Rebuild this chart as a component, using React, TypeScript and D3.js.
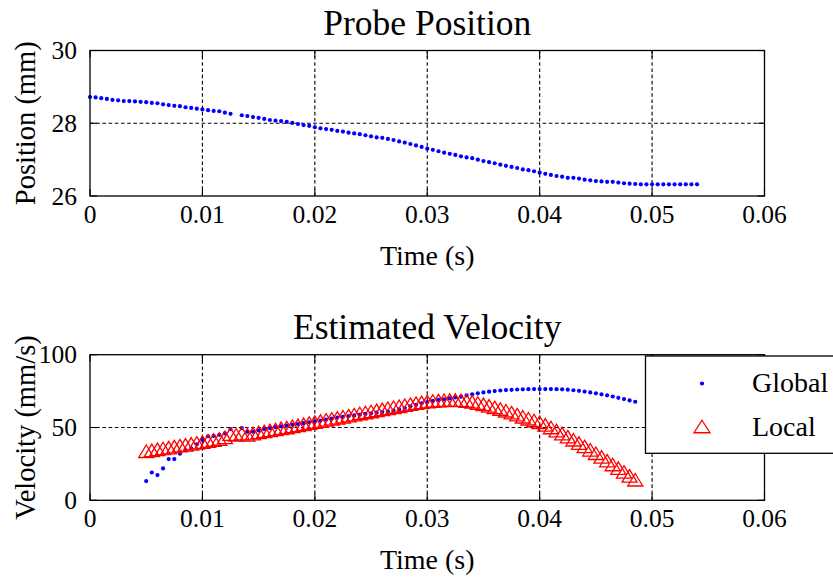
import React from 'react';
import * as d3 from 'd3';

// ---------- data ----------
// Probe position: time in ms, position in mm (one sample missing at 13 ms)
const posTimeMs = [
  0, 0.5, 1, 1.5, 2, 2.5, 3, 3.5, 4, 4.5, 5, 5.5, 6, 6.5, 7, 7.5, 8, 8.5, 9, 9.5,
  10, 10.5, 11, 11.5, 12, 12.5, 13.5, 14, 14.5, 15, 15.5, 16, 16.5, 17, 17.5, 18,
  18.5, 19, 19.5, 20, 20.5, 21, 21.5, 22, 22.5, 23, 23.5, 24, 24.5, 25, 25.5, 26,
  26.5, 27, 27.5, 28, 28.5, 29, 29.5, 30, 30.5, 31, 31.5, 32, 32.5, 33, 33.5, 34,
  34.5, 35, 35.5, 36, 36.5, 37, 37.5, 38, 38.5, 39, 39.5, 40, 40.5, 41, 41.5, 42,
  42.5, 43, 43.5, 44, 44.5, 45, 45.5, 46, 46.5, 47, 47.5, 48, 48.5, 49, 49.5, 50,
  50.5, 51, 51.5, 52, 52.5, 53, 53.5, 54,
];
const positionMm = [
  28.72, 28.71, 28.69, 28.67, 28.64, 28.63, 28.61, 28.61, 28.6, 28.59, 28.58, 28.56,
  28.55, 28.52, 28.5, 28.48, 28.47, 28.44, 28.42, 28.4, 28.38, 28.36, 28.34, 28.33,
  28.29, 28.26, 28.22, 28.2, 28.17, 28.15, 28.12, 28.09, 28.07, 28.06, 28.04, 28.01,
  27.98, 27.95, 27.93, 27.89, 27.86, 27.84, 27.82, 27.79, 27.77, 27.74, 27.72, 27.7,
  27.67, 27.64, 27.61, 27.6, 27.57, 27.54, 27.5, 27.47, 27.43, 27.39, 27.35, 27.3,
  27.27, 27.23, 27.19, 27.16, 27.13, 27.09, 27.06, 27.04, 27.0, 26.96, 26.93, 26.9,
  26.86, 26.83, 26.8, 26.77, 26.73, 26.71, 26.68, 26.64, 26.61, 26.58, 26.55, 26.53,
  26.5, 26.5, 26.48, 26.45, 26.43, 26.41, 26.4, 26.39, 26.39, 26.37, 26.35, 26.34,
  26.33, 26.32, 26.32, 26.32, 26.32, 26.32, 26.32, 26.32, 26.32, 26.32, 26.32, 26.32,
];

// Velocity: time in ms, velocity in mm/s
const velTimeMs = [
  5, 5.5, 6, 6.5, 7, 7.5, 8, 8.5, 9, 9.5, 10, 10.5, 11, 11.5, 12, 12.5, 13, 13.5,
  14, 14.5, 15, 15.5, 16, 16.5, 17, 17.5, 18, 18.5, 19, 19.5, 20, 20.5, 21, 21.5,
  22, 22.5, 23, 23.5, 24, 24.5, 25, 25.5, 26, 26.5, 27, 27.5, 28, 28.5, 29, 29.5,
  30, 30.5, 31, 31.5, 32, 32.5, 33, 33.5, 34, 34.5, 35, 35.5, 36, 36.5, 37, 37.5,
  38, 38.5, 39, 39.5, 40, 40.5, 41, 41.5, 42, 42.5, 43, 43.5, 44, 44.5, 45, 45.5,
  46, 46.5, 47, 47.5, 48, 48.5,
];
const globalVel: (number | null)[] = [
  13.2, 19.1, 17.3, 21.9, 28.3, 28.3, 32.0, 34.5, 35.6, 38.5, 41.5, 44.0, 44.2, 45.0,
  46.0, 48.9, null, 49.6, 47.1, 47.1, 48.0, 48.8, 49.6, 50.3, 50.8, 51.3, 51.9, 52.4,
  53.0, 53.6, 54.2, 54.8, 55.5, 56.1, 56.8, 57.3, 57.8, 58.3, 58.8, 59.3, 59.8, 60.2,
  60.6, 61.0, 61.6, 62.4, 63.4, 64.6, 65.6, 66.6, 67.5, 68.3, 69.0, 69.4, 70.0, 70.6,
  71.2, 72.0, 72.8, 73.5, 74.1, 74.6, 75.0, 75.4, 75.7, 75.9, 76.1, 76.2, 76.3, 76.4,
  76.4, 76.4, 76.4, 76.3, 76.2, 76.0, 75.6, 75.2, 74.7, 74.1, 73.5, 72.8, 72.1, 71.3,
  70.4, 69.5, 68.6, 67.7,
];
const localVel = [
  33.7, 34.3, 35.0, 35.6, 36.2, 36.9, 37.5, 38.1, 38.8, 39.4, 40.0, 40.7, 41.4, 42.1,
  43.2, 45.5, 45.0, 45.8, 45.0, 45.8, 46.6, 47.3, 48.0, 48.7, 49.4, 50.0, 50.8, 51.5,
  52.2, 53.0, 53.7, 54.4, 55.2, 55.9, 56.6, 57.4, 58.1, 58.8, 59.6, 60.3, 61.0, 61.8,
  62.5, 63.2, 63.9, 64.6, 65.3, 66.0, 66.7, 67.3, 67.8, 68.2, 68.5, 68.7, 68.8, 68.8,
  68.6, 68.2, 67.6, 66.8, 65.9, 64.9, 63.8, 62.7, 61.5, 60.2, 58.8, 57.4, 56.0, 54.8,
  53.6, 51.8, 50.0, 47.9, 45.8, 43.7, 41.6, 39.3, 37.0, 34.7, 32.3, 29.8, 27.2, 24.6,
  22.1, 19.5, 16.8, 14.1,
];

const timeTicks = [0, 0.01, 0.02, 0.03, 0.04, 0.05, 0.06];
const timeTickLabels = ['0', '0.01', '0.02', '0.03', '0.04', '0.05', '0.06'];
const posTicks = [26, 28, 30];
const velTicks = [0, 50, 100];
const seriesNames = ['Global', 'Local'];

// ---------- styling ----------
const FONT = '"Liberation Serif", "Times New Roman", serif';
const INK = '#000';
const BLUE = '#0000ff';
const RED = '#ff0000';

const X0 = 90;
const X1 = 764.5;
const TICK = 7;
const DOT_R = 2.1;

function trianglePath(cx: number, cy: number, w: number, h: number) {
  const p = d3.path();
  p.moveTo(cx, cy - h / 2);
  p.lineTo(cx + w / 2, cy + h / 2);
  p.lineTo(cx - w / 2, cy + h / 2);
  p.closePath();
  return p.toString();
}

type PanelProps = {
  x: d3.ScaleLinear<number, number>;
  y: d3.ScaleLinear<number, number>;
  yTicks: number[];
  title: string;
  titleY: number;
  ylabel: string;
  children?: React.ReactNode;
};

function Panel({ x, y, yTicks, title, titleY, ylabel, children }: PanelProps) {
  const [yb, yt] = y.range();
  const cx = (X0 + X1) / 2;
  const cy = (yb + yt) / 2;
  return (
    <g>
      {/* grid */}
      {timeTicks.slice(1, -1).map((t) => (
        <line key={'gx' + t} x1={x(t)} x2={x(t)} y1={yb} y2={yt}
          stroke={INK} strokeWidth={1.1} strokeDasharray="3.6,2.6" />
      ))}
      {yTicks.slice(1, -1).map((v) => (
        <line key={'gy' + v} x1={X0} x2={X1} y1={y(v)} y2={y(v)}
          stroke={INK} strokeWidth={1.1} strokeDasharray="3.6,2.6" />
      ))}
      {children}
      {/* frame */}
      <rect x={X0} y={yt} width={X1 - X0} height={yb - yt} fill="none" stroke={INK} strokeWidth={1.3} />
      {/* ticks */}
      {timeTicks.map((t) => (
        <g key={'tx' + t}>
          <line x1={x(t)} x2={x(t)} y1={yb} y2={yb - TICK} stroke={INK} strokeWidth={1.1} />
          <line x1={x(t)} x2={x(t)} y1={yt} y2={yt + TICK} stroke={INK} strokeWidth={1.1} />
        </g>
      ))}
      {yTicks.map((v) => (
        <g key={'ty' + v}>
          <line x1={X0} x2={X0 + TICK} y1={y(v)} y2={y(v)} stroke={INK} strokeWidth={1.1} />
          <line x1={X1} x2={X1 - TICK} y1={y(v)} y2={y(v)} stroke={INK} strokeWidth={1.1} />
        </g>
      ))}
      {/* tick labels */}
      {timeTicks.map((t, i) => (
        <text key={'lx' + t} x={x(t)} y={yb + 26.5} textAnchor="middle"
          fontFamily={FONT} fontSize={25.5} fill={INK}>{timeTickLabels[i]}</text>
      ))}
      {yTicks.map((v) => (
        <text key={'ly' + v} x={77} y={y(v) + 8.5} textAnchor="end"
          fontFamily={FONT} fontSize={25.5} fill={INK}>{String(v)}</text>
      ))}
      {/* labels */}
      <text x={cx} y={yb + 68.5} textAnchor="middle" fontFamily={FONT} fontSize={28} fill={INK}>Time (s)</text>
      <text transform={`translate(35,${cy}) rotate(-90)`} textAnchor="middle"
        fontFamily={FONT} fontSize={28.5} fill={INK}>{ylabel}</text>
      <text x={cx} y={titleY} textAnchor="middle" fontFamily={FONT} fontSize={35.5} fill={INK}>{title}</text>
    </g>
  );
}

export default function App() {
  const x = d3.scaleLinear().domain([0, 0.06]).range([X0, X1]);
  const yPos = d3.scaleLinear().domain([26, 30]).range([196, 50.5]);
  const yVel = d3.scaleLinear().domain([0, 100]).range([500.3, 354.7]);

  const posPts = posTimeMs.map((t, i) => ({ t: t / 1000, v: positionMm[i] }));
  const globPts = velTimeMs
    .map((t, i) => ({ t: t / 1000, v: globalVel[i] }))
    .filter((d) => d.v !== null) as { t: number; v: number }[];
  const locPts = velTimeMs.map((t, i) => ({ t: t / 1000, v: localVel[i] }));

  return (
    <svg width={833} height={577} style={{ position: 'absolute', left: 0, top: 0, background: '#fff' }}>
      <rect x={0} y={0} width={833} height={577} fill="#fff" />
      <Panel x={x} y={yPos} yTicks={posTicks} title="Probe Position" titleY={35} ylabel="Position (mm)">
        {posPts.map((d, i) => (
          <circle key={i} cx={x(d.t)} cy={yPos(d.v)} r={DOT_R} fill={BLUE} />
        ))}
      </Panel>
      <Panel x={x} y={yVel} yTicks={velTicks} title="Estimated Velocity" titleY={339} ylabel="Velocity (mm/s)">
        {globPts.map((d, i) => (
          <circle key={'g' + i} cx={x(d.t)} cy={yVel(d.v)} r={DOT_R} fill={BLUE} />
        ))}
        {locPts.map((d, i) => (
          <path key={'l' + i} d={trianglePath(x(d.t), yVel(d.v), 15, 12.5)}
            fill="none" stroke={RED} strokeWidth={1.3} strokeLinejoin="miter" />
        ))}
      </Panel>
      {/* legend */}
      <g>
        <rect x={645.5} y={356} width={200} height={97.3} fill="#fff" stroke={INK} strokeWidth={1.3} />
        <circle cx={702} cy={383.5} r={DOT_R} fill={BLUE} />
        <text x={752} y={392} fontFamily={FONT} fontSize={28} fill={INK}>{seriesNames[0]}</text>
        <path d={trianglePath(702, 426.5, 16, 12.5)} fill="none" stroke={RED} strokeWidth={1.3} />
        <text x={752} y={436} fontFamily={FONT} fontSize={28} fill={INK}>{seriesNames[1]}</text>
      </g>
    </svg>
  );
}
